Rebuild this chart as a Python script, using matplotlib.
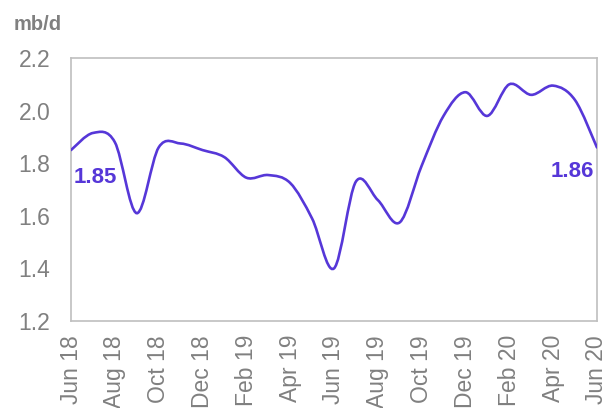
import matplotlib
matplotlib.use("Agg")
import numpy as np
import matplotlib.pyplot as plt
from matplotlib.path import Path
from matplotlib.patches import PathPatch

plt.rcParams['font.family'] = ['Liberation Sans', 'DejaVu Sans']

# monthly values, Jun 18 .. Jun 20 (mb/d)
months = ['Jun 18', 'Jul 18', 'Aug 18', 'Sep 18', 'Oct 18', 'Nov 18', 'Dec 18',
          'Jan 19', 'Feb 19', 'Mar 19', 'Apr 19', 'May 19', 'Jun 19', 'Jul 19',
          'Aug 19', 'Sep 19', 'Oct 19', 'Nov 19', 'Dec 19', 'Jan 20', 'Feb 20',
          'Mar 20', 'Apr 20', 'May 20', 'Jun 20']
values = [1.85, 1.915, 1.88, 1.61, 1.86, 1.875, 1.85, 1.823, 1.745, 1.755,
          1.725, 1.59, 1.40, 1.73, 1.66, 1.575, 1.79, 1.98, 2.07, 1.98,
          2.10, 2.06, 2.095, 2.04, 1.86]
tick_labels = months[::2]

purple = '#5637D8'
grey = '#808080'

fig = plt.figure(figsize=(6.08, 4.08), dpi=100)
ax = fig.add_axes([0.1168, 0.2132, 0.865, 0.6446])

# smoothed line (excel style bezier through each point)
x = np.arange(len(values), dtype=float)
y = np.array(values)
verts = [(x[0], y[0])]
codes = [Path.MOVETO]
n = len(x)
for i in range(n - 1):
    p0 = np.array([x[max(i - 1, 0)], y[max(i - 1, 0)]])
    p1 = np.array([x[i], y[i]])
    p2 = np.array([x[i + 1], y[i + 1]])
    p3 = np.array([x[min(i + 2, n - 1)], y[min(i + 2, n - 1)]])
    c1 = p1 + (p2 - p0) / 6.0
    c2 = p2 - (p3 - p1) / 6.0
    verts += [tuple(c1), tuple(c2), tuple(p2)]
    codes += [Path.CURVE4] * 3
ax.add_patch(PathPatch(Path(verts, codes), facecolor='none',
                       edgecolor=purple, lw=1.9, capstyle='round', zorder=3))

ax.set_xlim(0, len(values) - 1)
ax.set_ylim(1.2, 2.2)
ax.set_yticks(np.arange(1.2, 2.21, 0.2))
ax.set_yticklabels(['%.1f' % v for v in np.arange(1.2, 2.21, 0.2)])
ax.set_xticks(x[::2])
ax.set_xticklabels(tick_labels, rotation=90)

ax.tick_params(axis='y', length=0, pad=15, labelsize=16.5, labelcolor=grey)
ax.tick_params(axis='x', length=0, pad=10, labelsize=16.5, labelcolor=grey)
for s in ax.spines.values():
    s.set_color('#BFBFBF')
    s.set_linewidth(1.2)

ax.annotate('%.2f' % values[0], (x[0], y[0]), xytext=(2, -20),
            textcoords='offset points', ha='left', va='center',
            fontsize=16, fontweight='bold', color=purple)
ax.annotate('%.2f' % values[-1], (x[-1], y[-1]), xytext=(-2, -17),
            textcoords='offset points', ha='right', va='center',
            fontsize=16, fontweight='bold', color=purple)

fig.text(14 / 608, 1 - 25 / 408, 'mb/d', fontsize=14.5, fontweight='bold',
         color=grey, ha='left', va='center')

fig.savefig('out.png', dpi=100)
